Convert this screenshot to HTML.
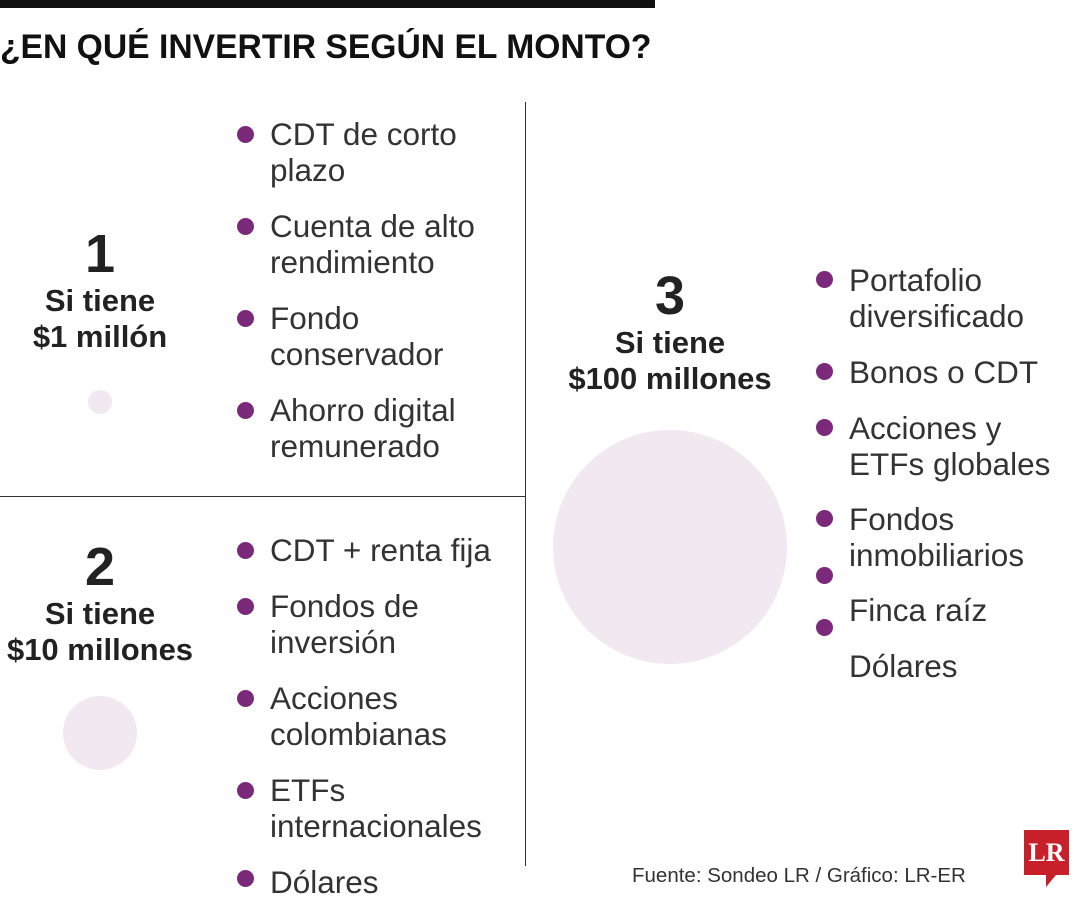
<!DOCTYPE html>
<html><head><meta charset="utf-8"><style>
body{margin:0;width:1080px;height:900px;background:#fff;position:relative;overflow:hidden;font-family:"Liberation Sans",sans-serif;color:#2d2d2d}
.a{position:absolute;white-space:nowrap}
.t{font-size:31.5px;line-height:36px;font-weight:400;color:#333}
.d{position:absolute;width:17px;height:17px;border-radius:50%;background:#7b2a7b}
.h{font-weight:bold;text-align:center;color:#222}
</style></head><body>
<div class="a" style="left:0;top:0;width:655px;height:8px;background:#111"></div>
<div class="a" style="left:0;top:28px;font-size:34px;font-weight:bold;color:#111;transform:scaleX(0.99);transform-origin:left">¿EN QUÉ INVERTIR SEGÚN EL MONTO?</div>
<div class="a" style="left:525px;top:102px;width:1px;height:764px;background:#333"></div>
<div class="a" style="left:0;top:496px;width:525px;height:1px;background:#333"></div>

<div class="a h" style="left:0;width:200px;top:225px">
<div style="font-size:54px;line-height:58px">1</div><div style="font-size:31px;line-height:36px">Si tiene<br>$1 millón</div></div>
<div class="a" style="left:88px;top:390px;width:24px;height:24px;border-radius:50%;background:#f1e8f2"></div>

<div class="a h" style="left:0;width:200px;top:538px">
<div style="font-size:54px;line-height:58px">2</div><div style="font-size:31px;line-height:36px">Si tiene<br>$10 millones</div></div>
<div class="a" style="left:63px;top:696px;width:74px;height:74px;border-radius:50%;background:#f1e8f2"></div>

<div class="a h" style="left:550px;width:240px;top:267px">
<div style="font-size:54px;line-height:58px">3</div><div style="font-size:31px;line-height:36px">Si tiene<br>$100 millones</div></div>
<div class="a" style="left:553px;top:430px;width:234px;height:234px;border-radius:50%;background:#f1e8f2"></div>

<div class="d" style="left:237px;top:126px"></div>
<div class="a t" style="left:270px;top:116px">CDT de corto<br>plazo</div>
<div class="d" style="left:237px;top:218px"></div>
<div class="a t" style="left:270px;top:208px">Cuenta de alto<br>rendimiento</div>
<div class="d" style="left:237px;top:310px"></div>
<div class="a t" style="left:270px;top:300px">Fondo<br>conservador</div>
<div class="d" style="left:237px;top:402px"></div>
<div class="a t" style="left:270px;top:392px">Ahorro digital<br>remunerado</div>

<div class="d" style="left:237px;top:542px"></div>
<div class="a t" style="left:270px;top:532px">CDT + renta fija</div>
<div class="d" style="left:237px;top:598px"></div>
<div class="a t" style="left:270px;top:588px">Fondos de<br>inversión</div>
<div class="d" style="left:237px;top:690px"></div>
<div class="a t" style="left:270px;top:680px">Acciones<br>colombianas</div>
<div class="d" style="left:237px;top:782px"></div>
<div class="a t" style="left:270px;top:772px">ETFs<br>internacionales</div>
<div class="d" style="left:237px;top:870px"></div>
<div class="a t" style="left:270px;top:864px">Dólares</div>

<div class="d" style="left:816px;top:271px"></div>
<div class="a t" style="left:849px;top:262px">Portafolio<br>diversificado</div>
<div class="d" style="left:816px;top:363px"></div>
<div class="a t" style="left:849px;top:354px">Bonos o CDT</div>
<div class="d" style="left:816px;top:419px"></div>
<div class="a t" style="left:849px;top:410px">Acciones y<br>ETFs globales</div>
<div class="d" style="left:816px;top:510px"></div>
<div class="a t" style="left:849px;top:501px">Fondos<br>inmobiliarios</div>
<div class="d" style="left:816px;top:567px"></div>
<div class="a t" style="left:849px;top:592px">Finca raíz</div>
<div class="d" style="left:816px;top:619px"></div>
<div class="a t" style="left:849px;top:648px">Dólares</div>

<div class="a" style="left:632px;top:864px;font-size:20.5px;color:#333">Fuente: Sondeo LR / Gráfico: LR-ER</div>
<div class="a" style="left:1024px;top:830px;width:45px;height:45px;background:#c8202a;color:#fff;font-family:'Liberation Serif',serif;font-weight:bold;font-size:26px;line-height:45px;text-align:center">LR</div>
<div class="a" style="left:1046px;top:875px;width:0;height:0;border-left:10px solid #c8202a;border-bottom:12px solid transparent"></div>
</body></html>
